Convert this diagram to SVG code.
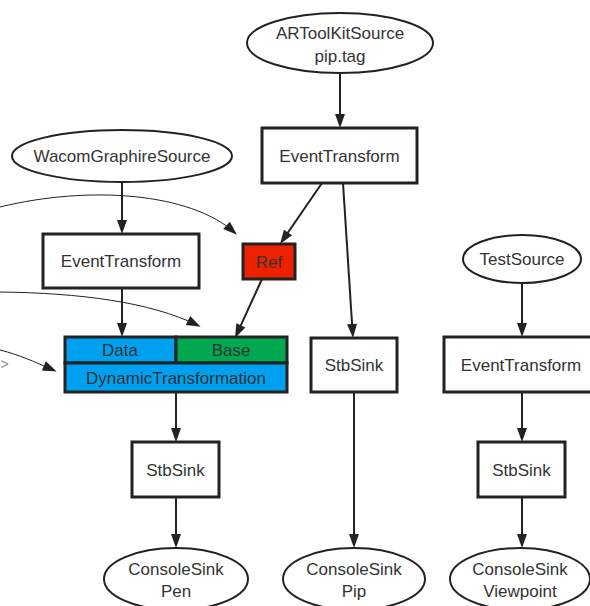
<svg xmlns="http://www.w3.org/2000/svg" width="590" height="606" viewBox="0 0 590 606">
<style>
.t{font-family:"Liberation Sans",Arial,sans-serif;font-size:17px;fill:#333;text-anchor:middle}
.box{fill:#fff;stroke:#222;stroke-width:3}
.ell{fill:#fff;stroke:#222;stroke-width:2}
.e{fill:none;stroke:#222;stroke-width:2;marker-end:url(#ah)}
.c{fill:none;stroke:#222;stroke-width:1;marker-end:url(#ah)}
</style>
<defs>
<marker id="ah" markerUnits="userSpaceOnUse" markerWidth="14" markerHeight="10" refX="10" refY="5" orient="auto" overflow="visible">
<path d="M0,0 L14,5 L0,10 z" fill="#222"/>
</marker>
</defs>
<rect width="590" height="606" fill="#fff"/>
<g id="connectors">
<path class="e" d="M340,73 L340,124"/>
<path class="e" d="M322,183 L282.3,240.7"/>
<path class="e" d="M343,183 L352.7,334"/>
<path class="e" d="M262,279 L236.7,334.4"/>
<path class="e" d="M122,182 L122,230"/>
<path class="e" d="M122,288 L122,333"/>
<path class="e" d="M176,392 L176,438"/>
<path class="e" d="M176,497 L176,544"/>
<path class="e" d="M354,392 L354,544"/>
<path class="e" d="M522,283 L522,333"/>
<path class="e" d="M522,392 L522,438"/>
<path class="e" d="M522,497 L522,544"/>
<path class="c" d="M0,207 C90,185 190,193 234,232"/>
<path class="c" d="M0,292 C80,293 150,302 197,325"/>
<path class="c" d="M0,350 C20,355 35,362 53,370"/>
</g>
<text x="0.5" y="369" style="font-family:'Liberation Sans',Arial,sans-serif;font-size:14px;fill:#888">&gt;</text>
<g id="ARToolKitSource">
<ellipse class="ell" cx="340" cy="43" rx="93" ry="30"/>
<text class="t" x="340" y="39">ARToolKitSource</text>
<text class="t" x="340" y="62">pip.tag</text>
</g>
<g id="EventTransform1">
<rect class="box" x="262" y="128" width="155" height="55"/>
<text class="t" x="339.5" y="162">EventTransform</text>
</g>
<g id="WacomGraphireSource">
<ellipse class="ell" cx="122" cy="156" rx="110" ry="26"/>
<text class="t" x="122" y="162">WacomGraphireSource</text>
</g>
<g id="EventTransform2">
<rect class="box" x="43" y="234" width="156" height="54"/>
<text class="t" x="121" y="267">EventTransform</text>
</g>
<g id="Ref">
<rect x="243" y="244" width="52" height="35" fill="#ee2200" stroke="#222" stroke-width="3"/>
<text class="t" x="269" y="268">Ref</text>
</g>
<g id="DynamicTransformation">
<rect x="65" y="337" width="111" height="26" fill="#00a0f0" stroke="#222" stroke-width="3"/>
<rect x="176" y="337" width="111" height="26" fill="#00a84f" stroke="#222" stroke-width="3"/>
<rect x="65" y="363" width="222" height="29" fill="#00a0f0" stroke="#222" stroke-width="3"/>
<text class="t" x="120" y="356">Data</text>
<text class="t" x="231" y="356">Base</text>
<text class="t" x="176" y="384">DynamicTransformation</text>
</g>
<g id="StbSink1">
<rect class="box" x="132" y="442" width="87" height="55"/>
<text class="t" x="175.5" y="476">StbSink</text>
</g>
<g id="StbSink2">
<rect class="box" x="311" y="338" width="86" height="54"/>
<text class="t" x="354" y="371">StbSink</text>
</g>
<g id="TestSource">
<ellipse class="ell" cx="522" cy="259" rx="59" ry="24"/>
<text class="t" x="522" y="265">TestSource</text>
</g>
<g id="EventTransform3">
<rect class="box" x="444" y="337" width="156" height="55"/>
<text class="t" x="521" y="371">EventTransform</text>
</g>
<g id="StbSink3">
<rect class="box" x="478" y="442" width="87" height="55"/>
<text class="t" x="521.5" y="476">StbSink</text>
</g>
<g id="ConsoleSinkPen">
<ellipse class="ell" cx="176" cy="579" rx="72" ry="31"/>
<text class="t" x="176" y="575">ConsoleSink</text>
<text class="t" x="176" y="597">Pen</text>
</g>
<g id="ConsoleSinkPip">
<ellipse class="ell" cx="354" cy="579" rx="71" ry="31"/>
<text class="t" x="354" y="575">ConsoleSink</text>
<text class="t" x="354" y="597">Pip</text>
</g>
<g id="ConsoleSinkViewpoint">
<ellipse class="ell" cx="520" cy="579" rx="70" ry="31"/>
<text class="t" x="520" y="575">ConsoleSink</text>
<text class="t" x="520" y="597">Viewpoint</text>
</g>
</svg>
